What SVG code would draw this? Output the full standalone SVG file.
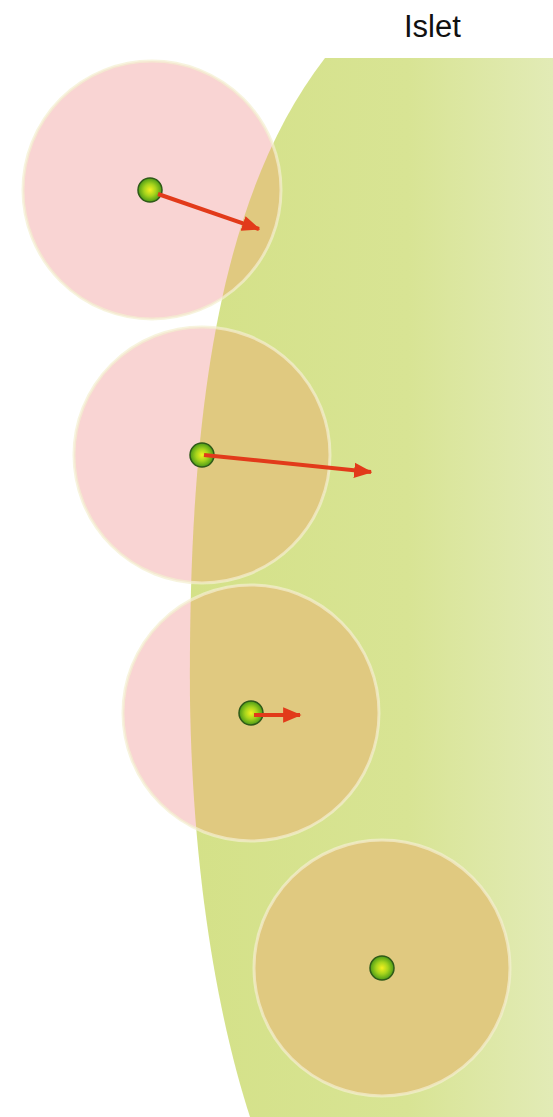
<svg xmlns="http://www.w3.org/2000/svg" width="553" height="1117" viewBox="0 0 553 1117">
<defs>
<linearGradient id="islG" x1="0" y1="0" x2="1" y2="0">
<stop offset="0" stop-color="#d4e188"/>
<stop offset="0.6" stop-color="#d8e494"/>
<stop offset="1" stop-color="#e2ebb6"/>
</linearGradient>
<radialGradient id="dotG" cx="0.5" cy="0.5" r="0.5">
<stop offset="0" stop-color="#f4f020"/>
<stop offset="0.5" stop-color="#a6d41c"/>
<stop offset="1" stop-color="#4a9a18"/>
</radialGradient>
<clipPath id="islClip"><path d="M325,58 L553,58 L553,1117 L250,1117 C225,1040 193,900 190,700 C188,430 215,200 325,58 Z"/></clipPath>
<marker id="ah" viewBox="0 0 12 10" refX="11" refY="5" markerWidth="4.6" markerHeight="4" orient="auto" markerUnits="strokeWidth">
<path d="M0,0 L12,5 L0,10 Z" fill="#e23a1a"/>
</marker>
<style>
.pink{fill:#f9d4d3}
.tan{fill:#e0c980}
.ring{fill:none;stroke:#f4f0d0;stroke-width:3;opacity:0.7}
.dot{fill:url(#dotG);stroke:#2f5a18;stroke-width:1.5}
.arr{stroke:#e23a1a;stroke-width:4;fill:none;marker-end:url(#ah)}
.lbl{font-family:"Liberation Sans",Arial,sans-serif;font-size:31px;fill:#111}
</style>
</defs>
<rect width="553" height="1117" fill="#ffffff"/>
<g id="islet">
<path d="M325,58 L553,58 L553,1117 L250,1117 C225,1040 193,900 190,700 C188,430 215,200 325,58 Z" fill="url(#islG)"/>
<text class="lbl" x="404" y="37">Islet</text>
</g>
<g id="cell1">
<circle class="pink" cx="152" cy="190" r="129"/>
<circle class="tan" cx="152" cy="190" r="129" clip-path="url(#islClip)"/>
<circle class="ring" cx="152" cy="190" r="129"/>
<circle class="dot" cx="150" cy="190" r="12"/>
</g>
<g id="cell2">
<circle class="pink" cx="202" cy="455" r="128"/>
<circle class="tan" cx="202" cy="455" r="128" clip-path="url(#islClip)"/>
<circle class="ring" cx="202" cy="455" r="128"/>
<circle class="dot" cx="202" cy="455" r="12"/>
</g>
<g id="cell3">
<circle class="pink" cx="251" cy="713" r="128"/>
<circle class="tan" cx="251" cy="713" r="128" clip-path="url(#islClip)"/>
<circle class="ring" cx="251" cy="713" r="128"/>
<circle class="dot" cx="251" cy="713" r="12"/>
</g>
<g id="cell4">
<circle class="pink" cx="382" cy="968" r="128"/>
<circle class="tan" cx="382" cy="968" r="128" clip-path="url(#islClip)"/>
<circle class="ring" cx="382" cy="968" r="128"/>
<circle class="dot" cx="382" cy="968" r="12"/>
</g>
<g id="connectors">
<line class="arr" x1="158" y1="194" x2="259" y2="229"/>
<line class="arr" x1="204" y1="455" x2="371" y2="472"/>
<line class="arr" x1="254" y1="715" x2="300" y2="715"/>
</g>
</svg>
